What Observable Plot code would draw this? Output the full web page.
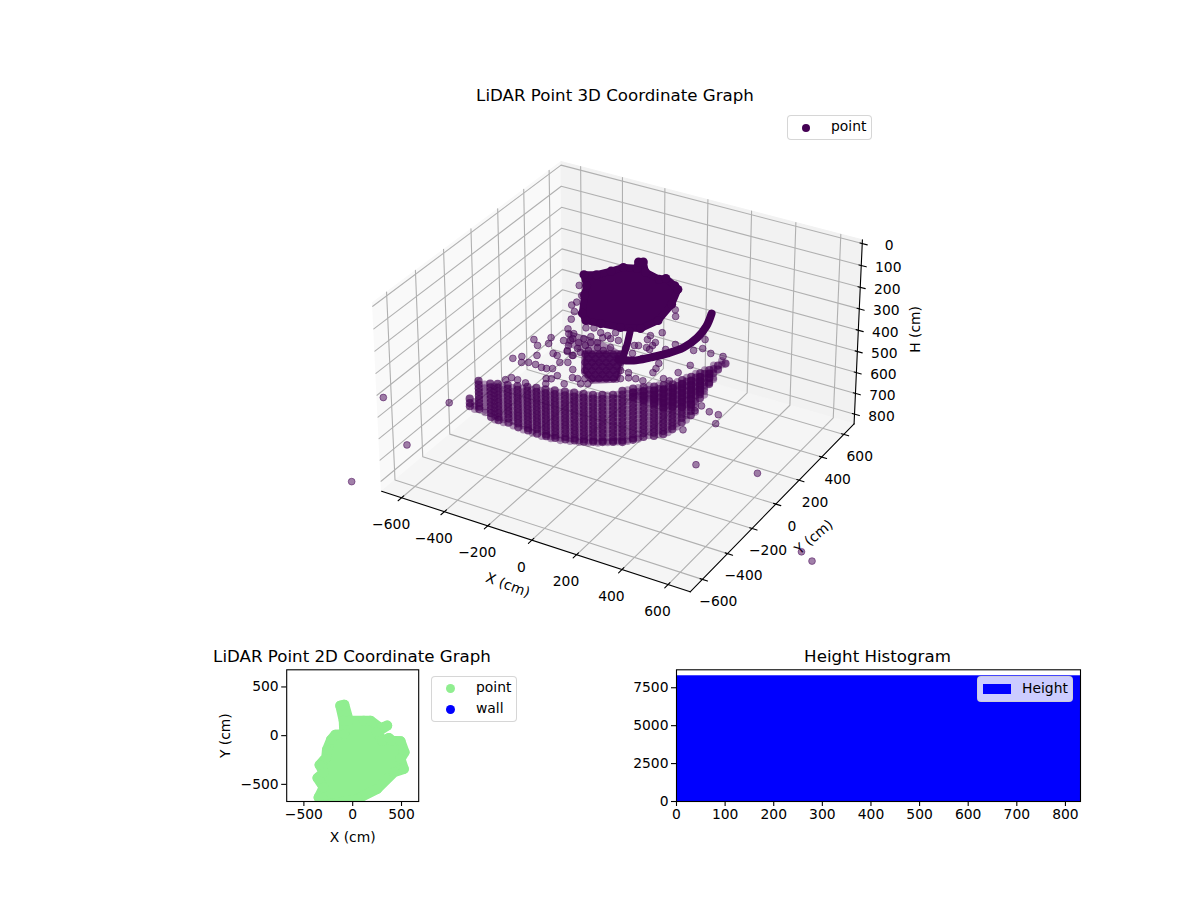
<!DOCTYPE html>
<html><head><meta charset="utf-8">
<script src="https://cdn.jsdelivr.net/npm/d3@7"></script>
<script src="https://cdn.jsdelivr.net/npm/@observablehq/plot@0.6"></script>
<style>
body{margin:0;background:#fff;width:1200px;height:900px;position:relative;overflow:hidden;font-family:"DejaVu Sans",sans-serif;color:#000}
svg{position:absolute;background:transparent;overflow:visible}
.t{position:absolute;font-size:16.67px;transform:translateX(-50%);white-space:nowrap;line-height:1}
.lg{position:absolute;box-sizing:border-box;border:1.1px solid rgba(204,204,204,.8);border-radius:4px;background:rgba(255,255,255,.8);font-size:13.89px}
.lg span{position:absolute;line-height:1;white-space:nowrap}
.d{border-radius:50%}
</style></head><body>
<div id="root"></div>
<script>
// ----- 3D axes
const xyLimit = 695, hMin = -17, hMax = 847;
const xTicks = [-600,-400,-200,0,200,400,600];
const yTicks = [-600,-400,-200,0,200,400,600];
const hTicks = [0,100,200,300,400,500,600,700,800];
// ----- bowl columns
const bowlX = [-461,-404,-337,-290,-238,-181,-130,-80,-30,17,68,112,156,197,235,272,301,330,358,381,399,416,429,441,447,454,449,439];
const bowlY = [-400,-420,-440,-460,-470,-490,-500,-515,-530,-540,-550,-555,-560,-560,-555,-540,-520,-490,-460,-420,-380,-340,-290,-240,-180,-120,-40,40];
const bowlH = [
[500,520,535],
[390,407,424,441,458,475,492,509,520],
[372,389,406,423,440,457,474,491,508,525],
[348,365,382,399,416,433,450,467,484,501,515],
[332,349,366,383,400,417,434,451,468,485,505],
[310,327,344,361,378,395,412,429,446,463,480,498],
[293,310,327,344,361,378,395,412,429,446,463,480,491],
[275,292,309,326,343,360,377,394,411,428,445,462,482],
[258,275,292,309,326,343,360,377,394,411,428,445,462,470],
[243,260,277,294,311,328,345,362,379,396,413,430,447,458],
[228,245,262,279,296,313,330,347,364,381,398,415,432,443],
[217,234,251,268,285,302,319,336,353,370,387,404,421,431],
[206,223,240,257,274,291,308,325,342,359,376,393,410,420],
[198,215,232,249,266,283,300,317,334,351,368,385,402,408],
[190,207,224,241,258,275,292,309,326,343,360,377,394,400],
[186,203,220,237,254,271,288,305,322,339,356,373,390,396],
[170,187,204,221,238,255,272,289,306,323,340,357,374,391,398],
[167,184,201,218,235,252,269,286,303,320,337,354,371,388,395,186,205],
[169,186,203,220,237,254,271,288,305,322,339,356,373,390,188,208,226],
[180,197,214,231,248,265,282,299,316,333,350,367,384,400,197,217,236,254],
[190,207,224,241,258,275,292,309,326,343,360,377,394,408,208,228,248,268,288],
[201,218,235,252,269,286,303,320,337,354,371,388,402,219,239,259,279,299],
[204,221,238,255,272,289,306,323,340,357,374,394,222,242,262,282,302,325],
[212,229,246,263,280,297,314,331,348,365,385,230,250,270,290,310,337],
[225,242,259,276,293,310,337,241,261,281,301,320],
[240,257,274,296,256,276,303],
[262,280],
[297]];
// ----- second, fainter row of bowl columns between the first ones
const bowl2X = [-432,-370,-313,-264,-210,-155,-105,-55,-6,42,90,134,176,216,253,286,315,344,370,390,408,422,435,444,450,451,444];
const bowl2Y = [-410,-430,-450,-465,-480,-495,-508,-522,-535,-545,-552,-558,-560,-558,-548,-530,-505,-475,-440,-400,-360,-315,-265,-210,-150,-80,0];
// ----- scattered points around the middle level
const midH = 350;
const midX = [-350,-313,-299,-283,-344,-321,-298,-274,-274,-242,-210,-189,-227,-205,-187,-154,-168,-141,-168,-124,-96,-69,-150,-132,-131,-65,-44,-14,10,-270,-241,-202,-282,
-422,-364,-327,-306,-359,-369,18,46,64,35,40,79,81,19,33,68,86,141,155,240,264,238,310,285,271,171,181,186,43,97,151,104,124,183,272,244,
-219,-191,-148,-112,-97,-121,-90,-56,-166,-182,-237,-277,-254,-244,-220,-164,-191,-151,-119,-55,0,-220,-184,-149,-143,-99,-68,-207,-139,-119,363,
-114,-90,-66,-42,-18,6,-83,-59,-35,-11,13,37,-51,-27,-3,21,45,69,-20,4,28,52,76,100,
-87,-63,-39,-15,9,-56,-32,-8,16,40,-25,-1,23,47,71];
const midY = [-94,-127,-47,-92,-262,-232,-272,-258,-195,-258,-266,-263,-150,-156,-109,-126,-197,-181,-252,-289,-219,-329,-330,-321,-364,-273,-269,-297,-283,-391,-393,-398,-416,
379,222,181,121,253,310,397,350,208,164,131,126,100,64,72,74,67,98,152,147,178,245,160,38,-34,-10,-50,-83,6,-8,-157,-131,-165,-157,-106,-103,
90,105,85,79,115,55,64,67,38,11,25,47,15,-42,-28,-68,-102,-124,11,3,27,-11,-26,-32,-3,-23,-31,-66,-89,-60,163,
-93,-80,-66,-52,-38,-24,-147,-134,-120,-106,-92,-78,-201,-188,-174,-160,-146,-132,-255,-242,-228,-214,-200,-186,
-114,-101,-87,-73,-59,-168,-155,-141,-127,-113,-222,-209,-195,-181,-167];
// ----- outliers
const farX = [-794,-760,-757,-514,320,561,964,1027,117,122,172,215,239,147];
const farY = [-755,-562,-418,-466,32,98,-310,-346,393,440,415,413,346,238];
const farH = [800,500,800,500,800,800,800,800,800,800,800,800,800,800];
// ----- dense roof outline, arcs and dense middle patches
const domeH = 325;
const domeX = [-429,-384,-348,-320,-268,-289,-272,-222,-142,-122,-60,-34,5,23,-6,-79,-163,-227,-270,-339,-372];
const domeY = [429,454,511,564,585,636,646,575,549,569,533,512,390,247,156,124,111,103,148,282,354];
const arcX = [160,191,204,195,163,121,75,19];
const arcY = [443,343,243,147,75,15,-40,-62];
const stemX = [-54,-13,29];
const stemY = [158,63,-47];
const coreX = [-128,5,44,98,16,-50];
const coreY = [-83,-6,-74,-206,-263,-219];
const bandX = [-269,-117,5,-128,-217];
const bandY = [34,31,-6,-83,-72];
// ----- 2D outline
const planX = [-86,-40,113,181,284,353,250,301,370,404,490,531,490,524,421,250,45,-229,-349,-298,-360,-298,-339,-271,-264,-223,-178,-86,-92,-127];
const planY = [318,154,154,154,79,103,34,-51,-25,-51,-58,-171,-240,-342,-377,-548,-651,-700,-634,-531,-435,-377,-301,-223,-147,-45,10,17,154,308];
const planTicks = [-500,0,500];
// ----- histogram
const binStart = [0], binEnd = [831], binCount = [8290];
const histXTicks = [0,100,200,300,400,500,600,700,800];
const histYTicks = [0,2500,5000,7500];

const deg = Math.PI/180, ce = Math.cos(30*deg), se = Math.sin(30*deg), ca = Math.cos(-60*deg), sa = Math.sin(-60*deg);
const halfXY = .595, halfZ = .36;
const W = [ce*ca, ce*sa, se], U = [-sa, ca, 0], V = [-se*ca, -se*sa, ce];
const dot3 = (a,b)=>a[0]*b[0]+a[1]*b[1]+a[2]*b[2];
function project(X,Y,H){
  const d=[X/xyLimit*halfXY, Y/xyLimit*halfXY, halfZ*(1-2*(H-hMin)/(hMax-hMin))];
  const depth=10-dot3(W,d);
  return {px:dot3(U,d)/depth, py:dot3(V,d)/depth};
}
const path=(id,pts)=>pts.map(([a,b,c])=>({id,...project(a,b,c)}));
const L=xyLimit;
const panes=[
 {c:"#f9f9f9",r:path("l",[[-L,-L,hMax],[-L,-L,hMin],[-L,L,hMin],[-L,L,hMax]])},
 {c:"#f2f2f2",r:path("b",[[-L,L,hMax],[-L,L,hMin],[L,L,hMin],[L,L,hMax]])},
 {c:"#f5f5f5",r:path("f",[[-L,-L,hMax],[-L,L,hMax],[L,L,hMax],[L,-L,hMax]])}];
const grid=[
 ...xTicks.flatMap(t=>path("x"+t,[[t,-L,hMax],[t,L,hMax],[t,L,hMin]])),
 ...yTicks.flatMap(t=>path("y"+t,[[L,t,hMax],[-L,t,hMax],[-L,t,hMin]])),
 ...hTicks.flatMap(t=>path("h"+t,[[-L,-L,t],[-L,L,t],[L,L,t]]))];
const axisLines=[
 ...path("ax",[[-L,-L,hMax],[L,-L,hMax]]),
 ...path("ay",[[L,-L,hMax],[L,L,hMax]]),
 ...path("ah",[[L,L,hMax],[L,L,hMin]])];
const tickLines=[
 ...xTicks.flatMap(t=>path("x"+t,[[t,-L+15,hMax],[t,-L-25,hMax]])),
 ...yTicks.flatMap(t=>path("y"+t,[[L-10,t,hMax],[L+22,t,hMax]])),
 ...hTicks.flatMap(t=>path("h"+t,[[L-10,L,t],[L+22,L,t]]))];
const minus=d=>String(d).replace("-","\u2212");
const xLabels=xTicks.map(t=>({t:minus(t),...project(t,-L,hMax)}));
const yLabels=yTicks.map(t=>({t:minus(t),...project(L,t,hMax)}));
const hLabels=hTicks.map(t=>({t:String(t),...project(L,L,t)}));
const bowlPts=[],bowl2Pts=[],scatterPts=[];
bowlX.forEach((x,i)=>bowlH[i].forEach(h=>bowlPts.push(project(x,bowlY[i],h))));
bowl2X.forEach((x,i)=>bowlH[i].forEach(h=>bowl2Pts.push(project(x,bowl2Y[i],h))));
midX.forEach((x,i)=>scatterPts.push(project(x,midY[i],midH)));
farX.forEach((x,i)=>scatterPts.push(project(x,farY[i],farH[i])));
const dome=domeX.map((x,i)=>project(x,domeY[i],domeH));
const arc=arcX.map((x,i)=>project(x,arcY[i],midH));
const stem=stemX.map((x,i)=>project(x,stemY[i],midH));
const core=coreX.map((x,i)=>project(x,coreY[i],midH));
const band=bandX.map((x,i)=>project(x,bandY[i],midH));
const purple="#440154";
const paneLine=(p)=>Plot.line(p.r,{x:"px",y:"py",curve:"linear-closed",fill:p.c,stroke:p.c,strokeWidth:1});
const lbl=(rows,dx,dy)=>Plot.text(rows,{x:"px",y:"py",text:"t",dx,dy,fontSize:13.89,fill:"#000"});
const one=(o,t)=>[{...o,t}];

const fig3=Plot.plot({
  width:1200,height:640,margin:0,
  x:{axis:null,type:"linear",domain:[-621.7/2958,578.3/2958],range:[0,1200]},
  y:{axis:null,type:"linear",domain:[364.9/2988,-275.1/2988],range:[0,640]},
  style:{fontFamily:"DejaVu Sans",background:"transparent",overflow:"visible"},
  marks:[
    ...panes.map(paneLine),
    Plot.line(grid,{x:"px",y:"py",z:"id",stroke:"#b0b0b0",strokeWidth:1.1}),
    Plot.line(axisLines,{x:"px",y:"py",z:"id",stroke:"#000",strokeWidth:1.1}),
    Plot.line(tickLines,{x:"px",y:"py",z:"id",stroke:"#000",strokeWidth:1.1}),
    lbl(xLabels,-10.5,27),lbl(yLabels,16,22),lbl(hLabels,27,2),
    Plot.text(one(project(0,-L,hMax),"X (cm)"),{x:"px",y:"py",text:"t",dx:-24,dy:45,rotate:20.5,fontSize:13.89}),
    Plot.text(one(project(L,0,hMax),"Y (cm)"),{x:"px",y:"py",text:"t",dx:38,dy:33,rotate:-40,fontSize:13.89}),
    Plot.text(one(project(L,L,415),"H (cm)"),{x:"px",y:"py",text:"t",dx:57,dy:-4,rotate:-90,fontSize:13.89}),
    Plot.line(band,{x:"px",y:"py",curve:"linear-closed",fill:purple,fillOpacity:.45,stroke:"none"}),
    Plot.dot(bowl2Pts,{x:"px",y:"py",r:3.8,fill:purple,fillOpacity:.4}),
    Plot.dot(bowlPts,{x:"px",y:"py",r:4.1,fill:purple,fillOpacity:.7}),
    Plot.dot(scatterPts,{x:"px",y:"py",r:3.4,fill:purple,fillOpacity:.5,stroke:purple,strokeOpacity:.5,strokeWidth:1}),
    Plot.line(core,{x:"px",y:"py",curve:"linear-closed",fill:purple,fillOpacity:.9,stroke:purple,strokeOpacity:.6,strokeWidth:4,strokeLinejoin:"round"}),
    Plot.line(dome,{x:"px",y:"py",curve:"linear-closed",fill:purple,stroke:purple,strokeWidth:7,strokeLinejoin:"round"}),
    Plot.dot(dome,{x:"px",y:"py",r:4.5,fill:purple}),
    Plot.line(stem,{x:"px",y:"py",stroke:purple,strokeWidth:7,strokeLinecap:"round"}),
    Plot.line(arc,{x:"px",y:"py",curve:"catmull-rom",stroke:purple,strokeWidth:8,strokeLinecap:"round"})
  ]
});

const planRows=planX.map((x,i)=>({x,y:planY[i]}));
const fig2=Plot.plot({
  width:230,height:190,marginLeft:86.2,marginRight:11.8,marginTop:9.3,marginBottom:49,
  x:{domain:[-676,676]},y:{domain:[-676,676]},
  style:{fontFamily:"DejaVu Sans",fontSize:"13.89px",background:"transparent",overflow:"visible"},
  marks:[
    Plot.line(planRows,{x:"x",y:"y",curve:"linear-closed",fill:"#90ee90",stroke:"#90ee90",strokeWidth:10,strokeLinejoin:"round",clip:true}),
    Plot.dot(planRows,{x:"x",y:"y",r:5,fill:"#90ee90",clip:true}),
    Plot.frame({stroke:"#000",strokeWidth:1.1}),
    Plot.axisX({ticks:planTicks,tickFormat:minus,tickSize:5,tickPadding:3,label:"X (cm)",labelAnchor:"center",labelArrow:"none",labelOffset:40,fontSize:13.89,stroke:"#000",strokeWidth:1.1}),
    Plot.axisY({ticks:planTicks,tickFormat:minus,tickSize:5,tickPadding:3,label:"Y (cm)",labelAnchor:"center",labelArrow:"none",labelOffset:67,fontSize:13.89,stroke:"#000",strokeWidth:1.1})
  ]
});

const histRows=binStart.map((s,i)=>({s,e:binEnd[i],n:binCount[i]}));
const figH=Plot.plot({
  width:500,height:190,marginLeft:76,marginRight:20,marginTop:9.3,marginBottom:49,
  x:{domain:[0,831]},y:{domain:[0,8684]},
  style:{fontFamily:"DejaVu Sans",fontSize:"13.89px",background:"transparent",overflow:"visible"},
  marks:[
    Plot.rect(histRows,{x1:"s",x2:"e",y1:0,y2:"n",fill:"#0000ff"}),
    Plot.frame({stroke:"#000",strokeWidth:1.1}),
    Plot.axisX({ticks:histXTicks,tickFormat:d3.format("d"),tickSize:5,tickPadding:3,label:null,fontSize:13.89,stroke:"#000",strokeWidth:1.1}),
    Plot.axisY({ticks:histYTicks,tickFormat:d3.format("d"),tickSize:5,tickPadding:3,label:null,fontSize:13.89,stroke:"#000",strokeWidth:1.1})
  ]
});

const root=document.getElementById("root");
const place=(el,l,t)=>{el.style.left=l+"px";el.style.top=t+"px";root.appendChild(el);};
place(fig3,0,0);place(fig2,200,660);place(figH,600,660);
function html(s){const t=document.createElement("template");t.innerHTML=s.trim();root.appendChild(t.content.firstChild);}
html('<div class="t" style="left:615px;top:88px">LiDAR Point 3D Coordinate Graph</div>');
html('<div class="t" style="left:352px;top:649px">LiDAR Point 2D Coordinate Graph</div>');
html('<div class="t" style="left:877.5px;top:649px">Height Histogram</div>');
html('<div class="lg" style="left:787px;top:115px;width:85px;height:25px"><span class="d" style="left:14px;top:8px;width:8px;height:8px;background:#440154"></span><span style="left:43px;top:4px">point</span></div>');
html('<div class="lg" style="left:431px;top:676px;width:86px;height:46px"><span class="d" style="left:14px;top:7px;width:9px;height:9px;background:#90ee90"></span><span style="left:44px;top:4px">point</span><span class="d" style="left:14px;top:28px;width:9px;height:9px;background:#0000ff"></span><span style="left:44px;top:25px">wall</span></div>');
html('<div class="lg" style="left:977px;top:676px;width:96px;height:26px"><span style="left:5px;top:7px;width:28px;height:10px;background:#0000ff"></span><span style="left:44px;top:5px">Height</span></div>');
</script>
</body></html>
